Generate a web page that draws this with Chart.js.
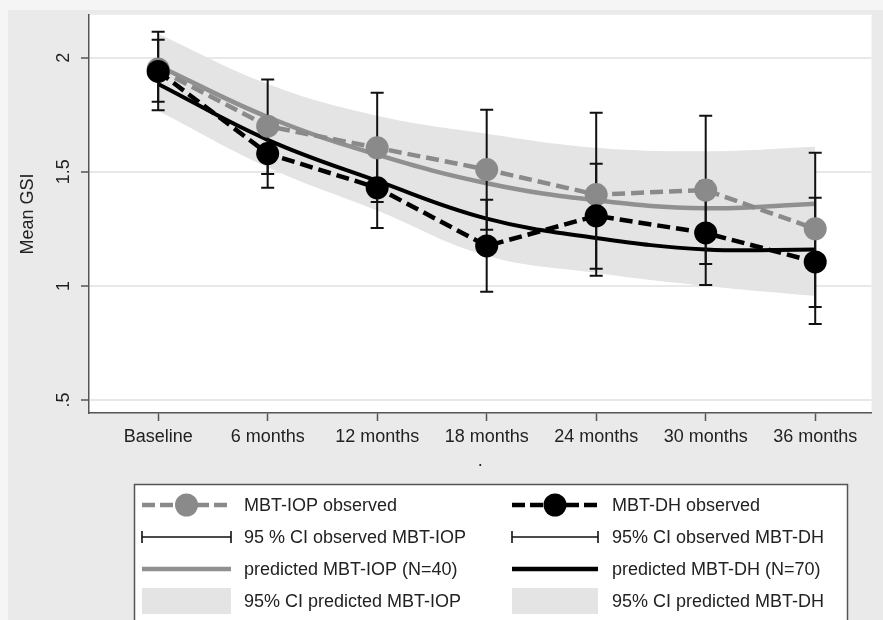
<!DOCTYPE html>
<html><head><meta charset="utf-8">
<script src="https://cdn.jsdelivr.net/npm/chart.js@4.4.1/dist/chart.umd.min.js"></script>
<style>html,body{margin:0;padding:0;background:#f4f4f4;overflow:hidden}canvas{display:block}</style>
</head><body>
<canvas id="c" width="883" height="620"></canvas>
<script>
// ---- data ----
const categories = ['Baseline','6 months','12 months','18 months','24 months','30 months','36 months'];
const yTicks = [0.5, 1, 1.5, 2];
const yTickLabels = ['.5', '1', '1.5', '2'];
const obsIop = [1.95, 1.70, 1.605, 1.51, 1.40, 1.42, 1.25];
const obsDh  = [1.94, 1.58, 1.43, 1.175, 1.307, 1.232, 1.105];
const ciObsIopLo = [1.77, 1.49, 1.368, 1.246, 1.044, 1.096, 0.908];
const ciObsIopHi = [2.114, 1.904, 1.846, 1.772, 1.759, 1.746, 1.583];
const ciObsDhLo  = [1.807, 1.43, 1.254, 0.974, 1.075, 1.004, 0.833];
const ciObsDhHi  = [2.079, 1.73, 1.61, 1.377, 1.535, 1.46, 1.386];
const predIop = [1.965, 1.74, 1.575, 1.45, 1.375, 1.34, 1.36];
const predDh  = [1.885, 1.64, 1.46, 1.295, 1.21, 1.16, 1.16];
const ciPredIopHi = [2.105, 1.885, 1.746, 1.667, 1.605, 1.59, 1.61];
const ciPredIopLo = [1.825, 1.595, 1.405, 1.235, 1.145, 1.09, 1.11];
const ciPredDhHi  = [2.0, 1.76, 1.59, 1.458, 1.363, 1.32, 1.36];
const ciPredDhLo  = [1.768, 1.52, 1.33, 1.132, 1.057, 1.0, 0.956];
const legendLabels = [
  ['MBT-IOP observed', '95 % CI observed MBT-IOP', 'predicted MBT-IOP (N=40)', '95% CI predicted MBT-IOP'],
  ['MBT-DH observed', '95% CI observed MBT-DH', 'predicted MBT-DH (N=70)', '95% CI predicted MBT-DH']
];

// ---- styles ----
const FONT = '"Liberation Sans", Arial, Helvetica, sans-serif';
const TXT = '#222';
const GREY = '#8a8a8a';
const GREY_LINE = '#909090';
const BAND = '#e4e4e4';
const AX = '#555';

const pts = arr => arr.map((v, i) => ({x: i, y: v}));

const bgPlugin = {
  id: 'bg',
  beforeDraw(chart) {
    const {ctx, chartArea: a} = chart;
    ctx.save();
    ctx.fillStyle = '#f5f5f5';
    ctx.fillRect(0, 0, chart.width, chart.height);
    ctx.fillStyle = '#eaeaea';
    ctx.fillRect(8, 10, chart.width - 8, chart.height - 10);
    ctx.fillStyle = '#ffffff';
    ctx.fillRect(a.left, a.top, a.right - a.left, a.bottom - a.top);
    ctx.restore();
  }
};

const errPlugin = {
  id: 'errbars',
  beforeDatasetDraw(chart, args) {
    if (args.index !== 6) return;
    const {ctx} = chart;
    const x = chart.scales.x, y = chart.scales.y;
    ctx.save();
    ctx.strokeStyle = '#111';
    ctx.lineWidth = 2;
    ctx.setLineDash([]);
    const draw = (lo, hi) => {
      lo.forEach((l, i) => {
        const px = x.getPixelForValue(i);
        const p1 = y.getPixelForValue(l), p2 = y.getPixelForValue(hi[i]);
        ctx.beginPath();
        ctx.moveTo(px, p1); ctx.lineTo(px, p2);
        ctx.moveTo(px - 6.5, p1); ctx.lineTo(px + 6.5, p1);
        ctx.moveTo(px - 6.5, p2); ctx.lineTo(px + 6.5, p2);
        ctx.stroke();
      });
    };
    draw(ciObsIopLo, ciObsIopHi);
    draw(ciObsDhLo, ciObsDhHi);
    ctx.restore();
  }
};

const legendPlugin = {
  id: 'customLegend',
  afterDraw(chart) {
    const {ctx} = chart;
    ctx.save();
    ctx.fillStyle = '#ffffff';
    ctx.fillRect(134, 484, 713, 150);
    ctx.strokeStyle = '#555';
    ctx.lineWidth = 1.5;
    ctx.strokeRect(134.5, 484.5, 713, 150);
    const rows = [505, 537, 569, 601];
    const cols = [
      {x0: 142, x1: 231, tx: 244, c: GREY, lc: GREY_LINE},
      {x0: 512, x1: 598, tx: 612, c: '#000', lc: '#000'}
    ];
    cols.forEach((col, ci) => {
      const mid = (col.x0 + col.x1) / 2;
      // observed
      ctx.strokeStyle = col.c; ctx.lineWidth = 4.5; ctx.setLineDash([13, 5]);
      ctx.beginPath(); ctx.moveTo(col.x0, rows[0]); ctx.lineTo(col.x1, rows[0]); ctx.stroke();
      ctx.setLineDash([]);
      ctx.fillStyle = col.c;
      ctx.beginPath(); ctx.arc(mid, rows[0], 11.5, 0, Math.PI * 2); ctx.fill();
      // CI observed
      ctx.strokeStyle = '#111'; ctx.lineWidth = 1.6;
      ctx.beginPath();
      ctx.moveTo(col.x0, rows[1]); ctx.lineTo(col.x1, rows[1]);
      ctx.moveTo(col.x0, rows[1] - 6); ctx.lineTo(col.x0, rows[1] + 6);
      ctx.moveTo(col.x1, rows[1] - 6); ctx.lineTo(col.x1, rows[1] + 6);
      ctx.stroke();
      // predicted
      ctx.strokeStyle = col.lc; ctx.lineWidth = 4.5;
      ctx.beginPath(); ctx.moveTo(col.x0, rows[2]); ctx.lineTo(col.x1, rows[2]); ctx.stroke();
      // band
      ctx.fillStyle = BAND;
      ctx.fillRect(col.x0, rows[3] - 13, col.x1 - col.x0, 26);
      // texts
      ctx.fillStyle = TXT;
      ctx.font = '18px ' + FONT;
      ctx.textAlign = 'left'; ctx.textBaseline = 'middle';
      legendLabels[ci].forEach((t, ri) => ctx.fillText(t, col.tx, rows[ri] + 1));
    });
    ctx.restore();
  }
};

const lineBase = {pointRadius: 0, pointHoverRadius: 0, fill: false};
new Chart(document.getElementById('c'), {
  type: 'line',
  data: {
    datasets: [
      {...lineBase, data: pts(ciPredIopHi), borderColor: 'rgba(0,0,0,0)', borderWidth: 1, fill: '+1', backgroundColor: BAND, tension: 0.4, order: 10},
      {...lineBase, data: pts(ciPredIopLo), borderColor: 'rgba(0,0,0,0)', borderWidth: 1, tension: 0.4, order: 10},
      {...lineBase, data: pts(ciPredDhHi), borderColor: 'rgba(0,0,0,0)', borderWidth: 1, fill: '+1', backgroundColor: BAND, tension: 0.4, order: 9},
      {...lineBase, data: pts(ciPredDhLo), borderColor: 'rgba(0,0,0,0)', borderWidth: 1, tension: 0.4, order: 9},
      {...lineBase, data: pts(predIop), borderColor: GREY_LINE, borderWidth: 4.5, tension: 0.4, order: 5},
      {...lineBase, data: pts(predDh), borderColor: '#000', borderWidth: 4, tension: 0.4, order: 4},
      {data: pts(obsIop), borderColor: GREY, borderWidth: 4.5, borderDash: [13, 6], tension: 0, fill: false,
       pointRadius: 11.5, pointHoverRadius: 11.5, pointBackgroundColor: GREY, pointBorderWidth: 0, order: 2},
      {data: pts(obsDh), borderColor: '#000', borderWidth: 4.5, borderDash: [13, 6], tension: 0, fill: false,
       pointRadius: 11.5, pointHoverRadius: 11.5, pointBackgroundColor: '#000', pointBorderWidth: 0, order: 1}
    ]
  },
  options: {
    responsive: false,
    animation: false,
    layout: {padding: {top: 14, right: 2, left: 0, bottom: 0}},
    plugins: {legend: {display: false}, tooltip: {enabled: false}},
    events: [],
    scales: {
      x: {
        type: 'linear', min: -0.6316, max: 6.514,
        afterBuildTicks: s => { s.ticks = categories.map((_, i) => ({value: i})); },
        afterFit: s => { s.height = 207; },
        ticks: {callback: (v, i) => categories[i], font: {family: FONT, size: 18}, color: TXT, padding: 5, maxRotation: 0, autoSkip: false},
        grid: {drawOnChartArea: false, drawTicks: true, tickLength: 8, tickColor: AX, tickWidth: 1.5},
        border: {color: AX, width: 1.5},
        title: {display: true, text: '.', font: {family: FONT, size: 18}, color: TXT, padding: {top: 0, bottom: 148}}
      },
      y: {
        min: 0.443, max: 2.188,
        afterBuildTicks: s => { s.ticks = yTicks.map(v => ({value: v})); },
        afterFit: s => { s.width = 89; },
        ticks: {callback: (v, i) => yTickLabels[i], font: {family: FONT, size: 18}, color: TXT,
                minRotation: 90, maxRotation: 90, crossAlign: 'center', padding: 4},
        grid: {color: '#e8e8e8', lineWidth: 2, drawTicks: true, tickLength: 8, tickColor: AX, tickWidth: 1.5},
        border: {color: AX, width: 1.5},
        title: {display: true, text: 'Mean GSI', font: {family: FONT, size: 18}, color: TXT, padding: {top: 17, bottom: 0}}
      }
    }
  },
  plugins: [bgPlugin, errPlugin, legendPlugin]
});
</script>
</body></html>
